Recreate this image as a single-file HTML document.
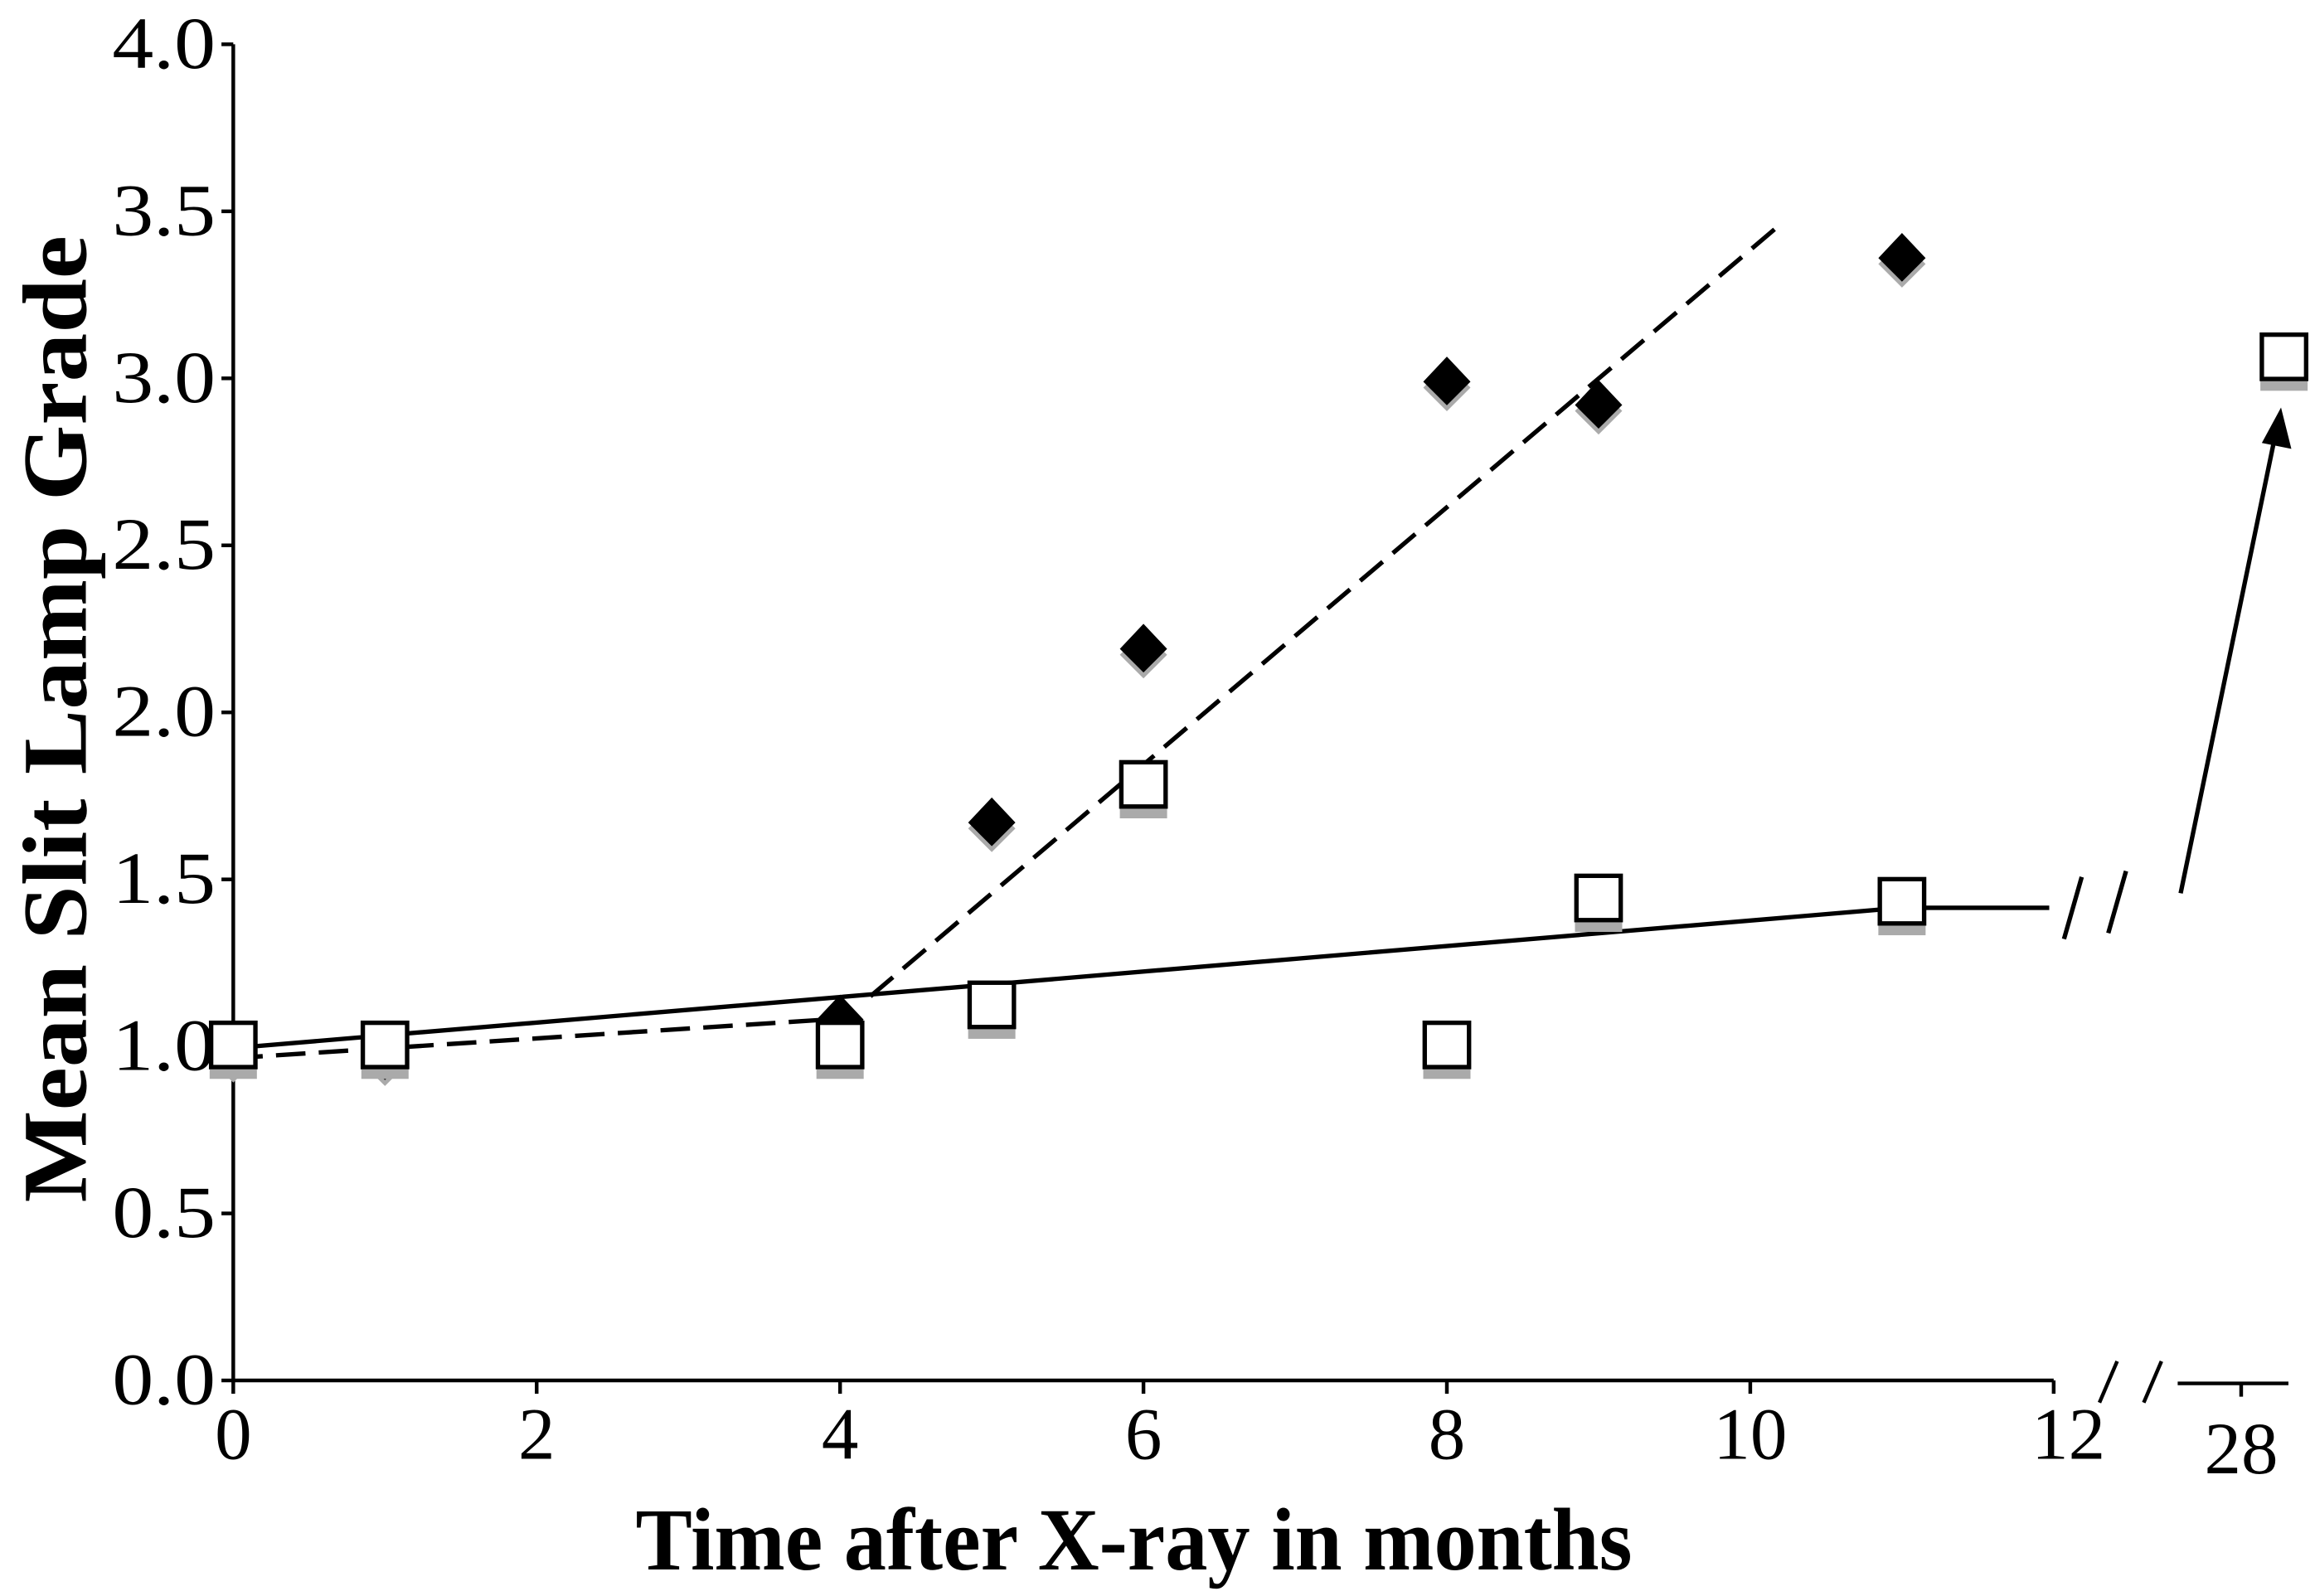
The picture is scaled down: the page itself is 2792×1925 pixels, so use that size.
<!DOCTYPE html>
<html><head><meta charset="utf-8"><style>html,body{margin:0;padding:0;background:#fff}svg{display:block}</style></head>
<body>
<svg width="2792" height="1925" viewBox="0 0 1568 1081" preserveAspectRatio="none" xmlns="http://www.w3.org/2000/svg" font-family="Liberation Serif, serif">
<g id="axes"></g>
<g id="lines"></g>
<g id="marks"></g>
<text x="768" y="1063" text-anchor="middle" font-weight="bold" font-size="60" textLength="675" lengthAdjust="spacingAndGlyphs">Time after X-ray in months</text>
<text transform="translate(58,487) rotate(-90)" text-anchor="middle" font-weight="bold" font-size="62" textLength="655" lengthAdjust="spacingAndGlyphs">Mean Slit Lamp Grade</text>
</svg>
<script>
const yTicks=[0,0.5,1,1.5,2,2.5,3,3.5,4];
const yTickLabels=["0.0","0.5","1.0","1.5","2.0","2.5","3.0","3.5","4.0"];
const xTicks=[0,2,4,6,8,10,12];
const xTickLabels=["0","2","4","6","8","10","12"];
const diamondX=[0,1,4,5,6,8,9,11];
const diamondY=[0.98,0.97,1.08,1.67,2.19,2.99,2.92,3.36];
const squareX=[0,1,4,5,6,8,9,11];
const squareY=[1.0,1.0,1.0,1.12,1.78,1.0,1.44,1.43];
const lateX=28, lateY=3.06;
const dashSeg1=[[0,0.965],[4,1.083]];
const dashSeg2=[[4.2,1.15],[10.17,3.45]];
const solidFit=[[0,0.995],[11,1.415]];
const NS="http://www.w3.org/2000/svg";
const X=v=>158+v*102.75;
const Y=v=>935-v*226.25;
const XL=()=>1547;
function el(tag,attrs,parent){const e=document.createElementNS(NS,tag);for(const k in attrs)e.setAttribute(k,attrs[k]);parent.appendChild(e);return e;}
const ax=document.getElementById('axes'),ln=document.getElementById('lines'),mk=document.getElementById('marks');
let a=el('line',{x1:158,y1:Y(4),x2:158,y2:935,stroke:'#000','stroke-width':2.5},ax);

a=el('line',{x1:158,y1:935,x2:X(12),y2:935,stroke:'#000','stroke-width':2.5},ax);

yTicks.forEach((t,i)=>{el('line',{x1:150,y1:Y(t),x2:158,y2:Y(t),stroke:'#000','stroke-width':2.5},ax);
 const tx=el('text',{x:146,y:Y(t)+16,'text-anchor':'end','font-size':50,textLength:70,lengthAdjust:'spacingAndGlyphs'},ax);tx.textContent=yTickLabels[i];
 });
xTicks.forEach((t,i)=>{el('line',{x1:X(t),y1:935,x2:X(t),y2:944,stroke:'#000','stroke-width':2.5},ax);
 const tx=el('text',{x:X(t)+(t==12?10:0),y:988,'text-anchor':'middle','font-size':50},ax);tx.textContent=xTickLabels[i];
 });
el('line',{x1:1422,y1:950,x2:1434,y2:922,stroke:'#000','stroke-width':2.5},ax);
el('line',{x1:1452,y1:950,x2:1464,y2:922,stroke:'#000','stroke-width':2.5},ax);
el('line',{x1:1475,y1:937,x2:1550,y2:937,stroke:'#000','stroke-width':2.5},ax);
el('line',{x1:1518,y1:937,x2:1518,y2:946,stroke:'#000','stroke-width':2.5},ax);
let t28=el('text',{x:1518,y:998,'text-anchor':'middle','font-size':50},ax);t28.textContent='28';

let l=el('line',{x1:X(dashSeg1[0][0]),y1:Y(dashSeg1[0][1]),x2:X(dashSeg1[1][0]),y2:Y(dashSeg1[1][1]),stroke:'#000','stroke-width':3,'stroke-dasharray':'20,9'},ln);

l=el('line',{x1:X(dashSeg2[0][0]),y1:Y(dashSeg2[0][1]),x2:X(dashSeg2[1][0]),y2:Y(dashSeg2[1][1]),stroke:'#000','stroke-width':3,'stroke-dasharray':'20,9'},ln);

l=el('line',{x1:X(solidFit[0][0]),y1:Y(solidFit[0][1]),x2:X(solidFit[1][0]),y2:Y(solidFit[1][1]),stroke:'#000','stroke-width':3},ln);

el('line',{x1:X(11),y1:Y(solidFit[1][1]),x2:1388,y2:Y(solidFit[1][1]),stroke:'#000','stroke-width':3},ln);
el('line',{x1:1398,y1:636,x2:1410,y2:594,stroke:'#000','stroke-width':3},ln);
el('line',{x1:1428,y1:632,x2:1440,y2:590,stroke:'#000','stroke-width':3},ln);
l=el('line',{x1:1477,y1:605,x2:1540,y2:300,stroke:'#000','stroke-width':3},ln);

el('polygon',{points:'1545,276 1532,300 1552,304',fill:'#000'},ln);
function diamond(x,y){const cx=X(x),cy=Y(y);
 el('polygon',{points:`${cx},${cy-12} ${cx+16},${cy+4} ${cx},${cy+20} ${cx-16},${cy+4}`,fill:'#aaa'},mk);
 const d=el('polygon',{points:`${cx},${cy-17} ${cx+16},${cy} ${cx},${cy+16} ${cx-16},${cy}`,fill:'#000'},mk);
 }
function square(cx,cy){
 el('rect',{x:cx-16,y:cy-10,width:32,height:32,fill:'#aaa'},mk);
 const s=el('rect',{x:cx-15,y:cy-16,width:30,height:30,fill:'#fff',stroke:'#000','stroke-width':3},mk);
 }
diamondX.forEach((x,i)=>diamond(x,diamondY[i]));
squareX.forEach((x,i)=>square(X(x),Y(squareY[i])));
square(XL(),Y(lateY));
</script>
</body></html>
